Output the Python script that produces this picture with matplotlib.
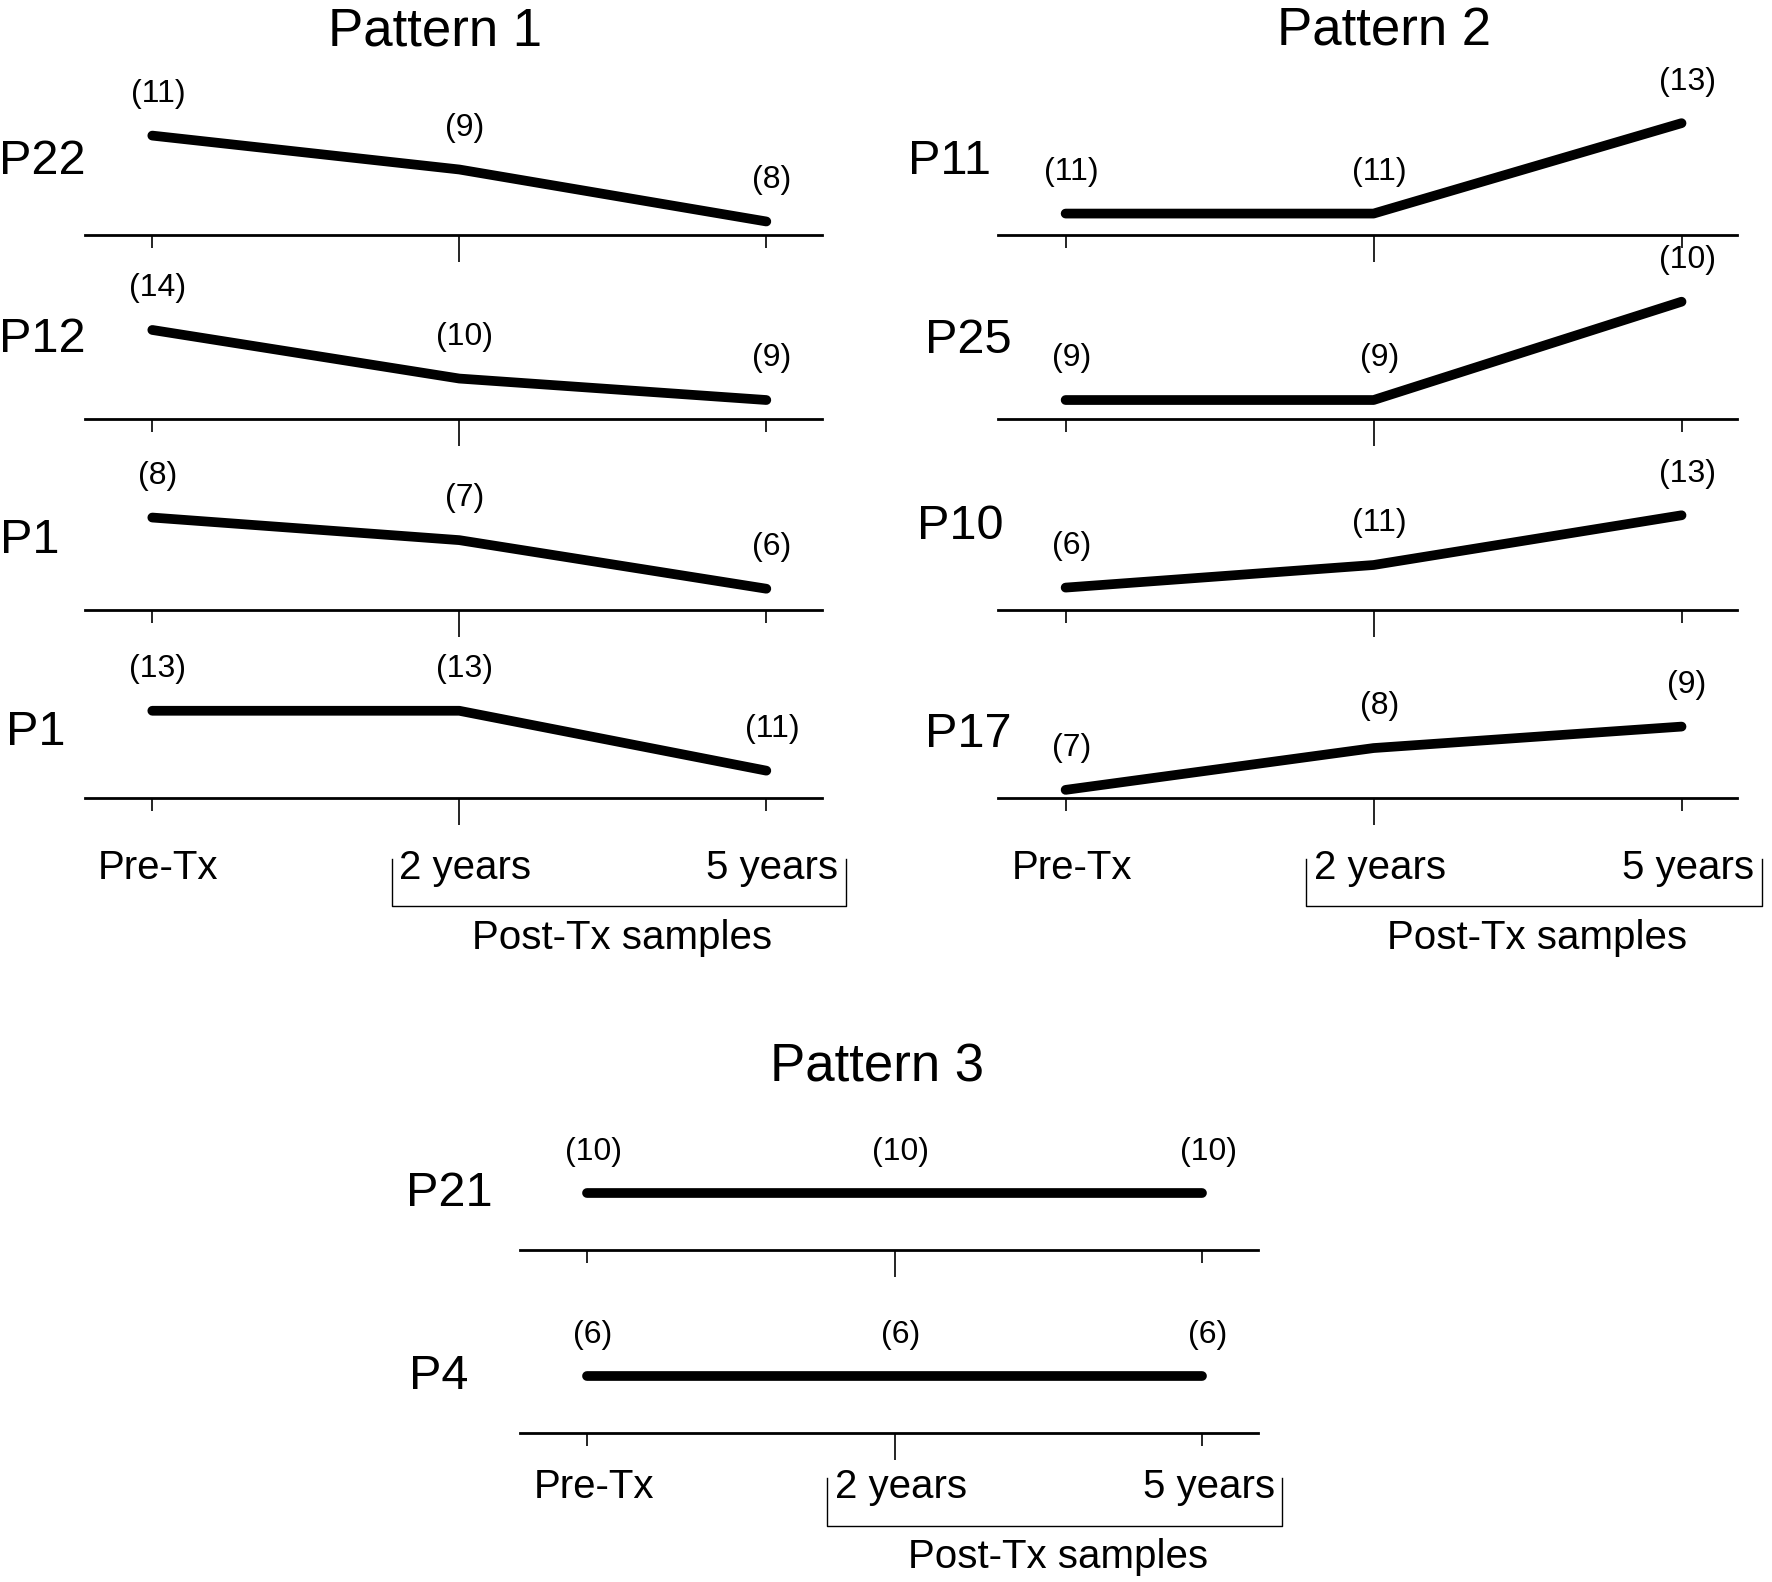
import matplotlib
matplotlib.use('Agg')
import matplotlib.pyplot as plt
from matplotlib.transforms import blended_transform_factory

plt.rcParams['font.family'] = ['Liberation Sans', 'DejaVu Sans']

# ---------------- data ----------------
timepoints = ['Pre-Tx', '2 years', '5 years']
x_pos = [0, 1, 2]

p1_patients = ['P22', 'P12', 'P1', 'P1']
p1_levels = [[88, 58, 12], [79, 36, 17], [82, 62, 19], [77, 77, 24]]
p1_counts = [[11, 9, 8], [14, 10, 9], [8, 7, 6], [13, 13, 11]]

p2_patients = ['P11', 'P25', 'P10', 'P17']
p2_levels = [[19, 19, 99], [17, 17, 104], [20, 40, 84], [7, 44, 63]]
p2_counts = [[11, 11, 13], [9, 9, 10], [6, 11, 13], [7, 8, 9]]

p3_patients = ['P21', 'P4']
p3_levels = [[50, 50, 50], [50, 50, 50]]
p3_counts = [[10, 10, 10], [6, 6, 6]]

# ---------------- layout (reference pixel grid) ----------------
W0, H0 = 1568.0, 1400.0
def fx(x):
    return x / W0
def fy(y):
    return 1 - y / H0

patterns = [
    dict(title='Pattern 1', tx=385, ty=40, x0=75, x1=727,
         base=[208, 371, 540, 706], lab_x=[37, 37, 26, 32], lab_y=[143, 300, 478, 648],
         names=p1_patients, levels=p1_levels, counts=p1_counts, cat_y=768),
    dict(title='Pattern 2', tx=1225, ty=40, x0=883, x1=1537,
         base=[208, 371, 540, 706], lab_x=[840, 857, 850, 857], lab_y=[143, 301, 466, 650],
         names=p2_patients, levels=p2_levels, counts=p2_counts, cat_y=768),
    dict(title='Pattern 3', tx=776, ty=957, x0=460, x1=1113,
         base=[1106, 1268], lab_x=[398, 388], lab_y=[1056, 1218],
         names=p3_patients, levels=p3_levels, counts=p3_counts, cat_y=1316),
]

ROW_H = 110.0

fig = plt.figure(figsize=(17.72, 15.82), dpi=100)
fig.patch.set_facecolor('white')

for pat in patterns:
    fig.text(fx(pat['tx']), fy(pat['ty']), pat['title'], ha='center', va='baseline',
             fontsize=38)
    last_ax = None
    for i, base in enumerate(pat['base']):
        ax = fig.add_axes([fx(pat['x0']), fy(base), fx(pat['x1']) - fx(pat['x0']), ROW_H / H0])
        ax.patch.set_visible(False)
        ax.set_xlim(-0.22, 2.18)
        ax.set_ylim(0, ROW_H)
        lv = pat['levels'][i]
        ax.plot(x_pos, lv, color='black', lw=7, solid_capstyle='round',
                solid_joinstyle='round', clip_on=False)
        for x, v, c in zip(x_pos, lv, pat['counts'][i]):
            ax.annotate(f'({c})', xy=(x, v), xytext=(4, 30), textcoords='offset points',
                        ha='center', va='center', fontsize=23)
        for s in ['left', 'top', 'right']:
            ax.spines[s].set_visible(False)
        ax.spines['bottom'].set_linewidth(2.0)
        ax.set_yticks([])
        ax.set_xticks([0, 2])
        ax.set_xticks([1], minor=True)
        ax.tick_params(axis='x', which='major', length=9.5, width=1.2, direction='out',
                       labelbottom=False)
        ax.tick_params(axis='x', which='minor', length=19.5, width=1.2, direction='out',
                       labelbottom=False)
        fig.text(fx(pat['lab_x'][i]), fy(pat['lab_y'][i]), pat['names'][i],
                 ha='center', va='center', fontsize=35)
        last_ax = ax

    trans = blended_transform_factory(last_ax.transData, fig.transFigure)
    cy = pat['cat_y']
    for x, name in zip(x_pos, timepoints):
        last_ax.text(x + 0.02, fy(cy), name, transform=trans, ha='center', va='center',
                     fontsize=29)
    last_ax.plot([0.78, 0.78, 2.26, 2.26], [fy(cy - 8), fy(cy + 34), fy(cy + 34), fy(cy - 8)],
                 transform=trans, color='black', lw=1.0, clip_on=False)
    last_ax.text(1.53, fy(cy + 62), 'Post-Tx samples', transform=trans, ha='center',
                 va='center', fontsize=29)

fig.savefig('out.png', dpi=100, facecolor='white')
